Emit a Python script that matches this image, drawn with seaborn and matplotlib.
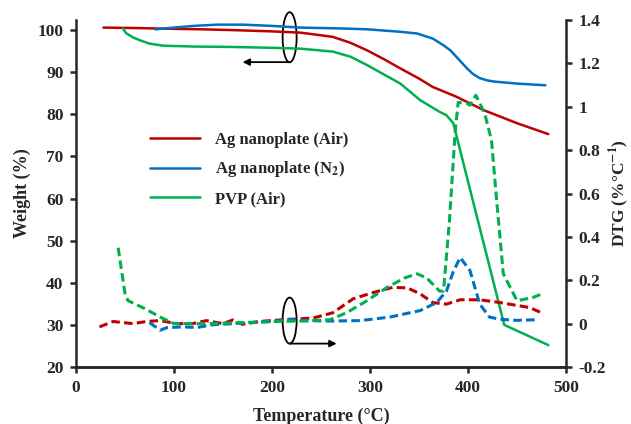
import matplotlib
matplotlib.use('Agg')
import matplotlib.pyplot as plt
from matplotlib.patches import Ellipse
from matplotlib.ticker import FuncFormatter
import seaborn as sns
import pandas as pd

# TG curves (left axis, weight %)
t_air = [28, 60, 100, 127, 160, 200, 229, 249, 262, 280, 297, 315, 331, 350, 364, 388, 416, 450, 482]
w_air = [100.6, 100.5, 100.3, 100.2, 100.0, 99.7, 99.4, 98.8, 98.4, 97.0, 95.2, 93.0, 90.9, 88.5, 86.5, 84.2, 81.0, 77.9, 75.3]

t_n2 = [81, 100, 120, 144, 170, 200, 229, 249, 270, 297, 331, 348, 364, 375, 382, 388, 399, 405, 412, 419, 426, 450, 479]
w_n2 = [100.2, 100.6, 101.0, 101.3, 101.3, 101.0, 100.6, 100.5, 100.4, 100.2, 99.6, 99.2, 98.0, 96.4, 95.2, 93.7, 90.9, 89.6, 88.6, 88.1, 87.8, 87.3, 86.9]

t_pvp = [48, 51, 58, 65, 75, 89, 120, 160, 200, 229, 262, 280, 297, 331, 351, 371, 378, 385, 437, 482]
w_pvp = [100.4, 99.3, 98.3, 97.6, 96.8, 96.3, 96.1, 96.0, 95.8, 95.6, 94.9, 93.7, 91.7, 87.3, 83.4, 80.6, 79.8, 77.9, 30.0, 25.2]

# DTG curves (right axis, %/degC)
td_air = [24, 38, 58, 72, 86, 103, 119, 133, 150, 160, 170, 187, 208, 242, 262, 283, 303, 323, 338, 351, 364, 378, 392, 412, 433, 463, 475]
d_air = [-0.015, 0.01, 0.0, 0.01, 0.014, 0.0, 0.0, 0.014, 0.0, 0.017, -0.003, 0.01, 0.017, 0.026, 0.05, 0.115, 0.143, 0.167, 0.165, 0.138, 0.097, 0.09, 0.11, 0.11, 0.097, 0.074, 0.05]

td_n2 = [75, 86, 93, 110, 123, 140, 160, 180, 200, 218, 230, 260, 290, 320, 351, 368, 378, 385, 392, 402, 412, 422, 433, 450, 470]
d_n2 = [0.005, -0.03, -0.018, -0.015, -0.018, -0.005, 0.0, 0.005, 0.01, 0.02, 0.014, 0.012, 0.014, 0.03, 0.06, 0.097, 0.15, 0.24, 0.305, 0.245, 0.09, 0.03, 0.02, 0.015, 0.018]

td_pvp = [43, 50, 53, 70, 86, 100, 130, 160, 200, 230, 259, 276, 297, 317, 335, 348, 358, 371, 375, 381, 387, 390, 399, 402, 408, 417, 424, 429, 436, 450, 466, 477]
d_pvp = [0.35, 0.14, 0.106, 0.07, 0.03, 0.0, 0.0, 0.003, 0.01, 0.012, 0.018, 0.05, 0.106, 0.166, 0.21, 0.23, 0.21, 0.15, 0.15, 0.47, 0.89, 1.02, 1.016, 1.007, 1.053, 0.97, 0.845, 0.58, 0.23, 0.106, 0.12, 0.14]

labels = ['Ag nanoplate (Air)', 'Ag nanoplate (N$_{\\mathbf{2}}$)', 'PVP (Air)']
colors = ['#C00000', '#0070C0', '#00B050']

sns.set_style('ticks')
plt.rcParams['font.family'] = ['Liberation Serif', 'DejaVu Serif']
plt.rcParams['font.weight'] = 'bold'
plt.rcParams['mathtext.fontset'] = 'stix'
plt.rcParams['axes.linewidth'] = 1.8

fig = plt.figure(figsize=(6.31, 4.24), dpi=100)
ax1 = fig.add_axes([0.1204, 0.1344, 0.7766, 0.8184])
ax2 = ax1.twinx()

tg = [(t_air, w_air), (t_n2, w_n2), (t_pvp, w_pvp)]
dtg = [(td_air, d_air), (td_n2, d_n2), (td_pvp, d_pvp)]

for (t, w), lab, c in zip(tg, labels, colors):
    df = pd.DataFrame({'T': t, 'W': w})
    sns.lineplot(data=df, x='T', y='W', ax=ax1, color=c, lw=1.8, label=lab)

for (t, d), c in zip(dtg, colors):
    df = pd.DataFrame({'T': t, 'D': d})
    sns.lineplot(data=df, x='T', y='D', ax=ax2, color=c, lw=2.2, linestyle='--')
    ax2.lines[-1].set_dashes((2.8, 1.4))

ax1.set_xlim(0, 500)
ax1.set_ylim(20, 102.4)
ax2.set_ylim(-0.2, 1.4)
ax1.set_xticks([0, 100, 200, 300, 400, 500])
ax1.set_yticks(range(20, 101, 10))
ax2.set_yticks([-0.2, 0, 0.2, 0.4, 0.6, 0.8, 1.0, 1.2, 1.4])
ax2.yaxis.set_major_formatter(FuncFormatter(lambda v, p: f'{v:g}'))

for ax in (ax1, ax2):
    ax.spines['top'].set_visible(False)
    ax.tick_params(labelsize=12.5, width=1.8, length=4, direction='out', pad=5)
    for s in ax.spines.values():
        s.set_linewidth(1.8)
ax2.spines['left'].set_visible(False)
ax1.spines['right'].set_visible(False)

ax1.set_xlabel('Temperature (°C)', fontsize=13, fontweight='bold', labelpad=9)
ax1.set_ylabel('Weight (%)', fontsize=13, fontweight='bold', labelpad=5)
ax2.set_ylabel('DTG (%°C$^{\\mathbf{-1}}$)', fontsize=12.5, fontweight='bold', labelpad=1)

# ellipses + arrows pointing to the relevant axis
ax1.add_patch(Ellipse((218, 98.3), 14.3, 11.9, fill=False, ec='black', lw=1.3, clip_on=False))
ax1.annotate('', xy=(170, 92.4), xytext=(218, 92.4),
             arrowprops=dict(arrowstyle='-|>', color='black', lw=1.3, shrinkA=0, shrinkB=0))
ax2.add_patch(Ellipse((218, 0.014), 14.3, 0.212, fill=False, ec='black', lw=1.3, clip_on=False))
ax2.annotate('', xy=(266, -0.092), xytext=(218, -0.092),
             arrowprops=dict(arrowstyle='-|>', color='black', lw=1.3, shrinkA=0, shrinkB=0))

if ax2.get_legend():
    ax2.get_legend().remove()
ax1.legend(loc='upper left', bbox_to_anchor=(0.151, 0.678), frameon=False, fontsize=12,
           handlelength=3.0, handletextpad=0.9, labelspacing=0.7, borderaxespad=0, borderpad=0)

fig.savefig('out.png', dpi=100)
